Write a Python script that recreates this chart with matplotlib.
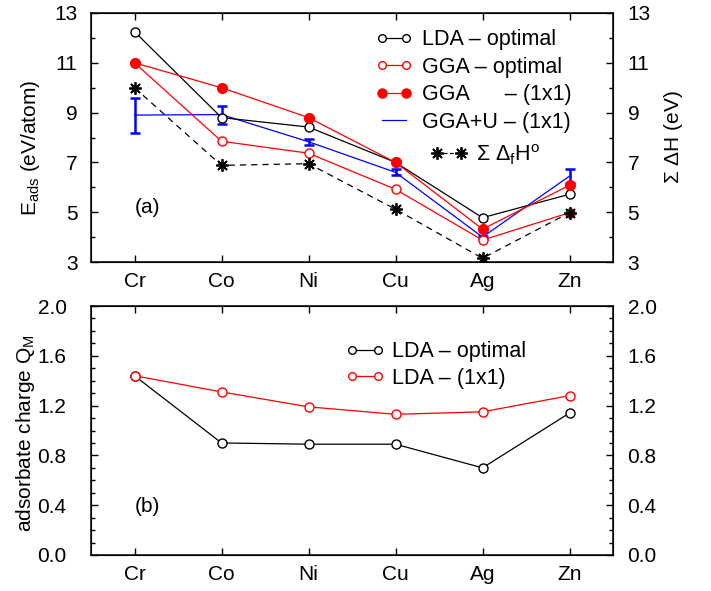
import matplotlib
matplotlib.use("Agg")
import matplotlib.pyplot as plt
from matplotlib.lines import Line2D
import numpy as np

plt.rcParams['font.family'] = ['Liberation Sans', 'DejaVu Sans']
plt.rcParams['mathtext.fontset'] = 'custom'
plt.rcParams['mathtext.rm'] = 'Liberation Sans'
plt.rcParams['mathtext.it'] = 'Liberation Sans:italic'
plt.rcParams['mathtext.sf'] = 'Liberation Sans'

metals = ["Cr", "Co", "Ni", "Cu", "Ag", "Zn"]

lda_opt = [12.25, 8.8, 8.42, 7.0, 4.78, 5.72]
gga_opt = [11.0, 7.85, 7.37, 5.92, 3.88, 4.98]
gga_1x1 = [11.0, 10.0, 8.8, 7.0, 4.32, 6.08]
ggau_1x1 = [8.9, 8.92, 7.83, 6.6, 4.0, 6.45]
ggau_err = [0.7, 0.36, 0.12, 0.12, 0.06, 0.27]
sum_dfh = [10.0, 6.88, 6.95, 5.12, 3.15, 4.98]

q_lda_opt = [1.44, 0.90, 0.89, 0.89, 0.70, 1.14]
q_lda_1x1 = [1.44, 1.31, 1.19, 1.13, 1.15, 1.28]

x = np.arange(1, len(metals) + 1)
FS = 15
LFS = 15.5

fig = plt.figure(figsize=(7.11, 5.91), dpi=100)
L, W, H = 91 / 711, 522 / 711, 249 / 591
ax1 = fig.add_axes([L, 1 - 262 / 591, W, H])
ax2 = fig.add_axes([L, 1 - 555 / 591, W, H])

lw = 0.9
ms = 6.5
star = (8, 2, 0)
ax1.plot(x, lda_opt, '-o', color='black', mfc='white', mec='black', lw=lw, ms=ms, zorder=3)
ax1.plot(x, gga_opt, '-o', color='red', mfc='white', mec='red', lw=lw, ms=ms, zorder=3)
ax1.plot(x, gga_1x1, '-o', color='red', mfc='red', mec='red', lw=lw, ms=7, zorder=3)
ax1.errorbar(x, ggau_1x1, yerr=ggau_err, color='blue', lw=lw, elinewidth=1.8,
             capsize=3.3, capthick=1.8, zorder=2)
ax1.plot(x, sum_dfh, '--', color='black', lw=lw, marker=star, ms=9, mew=1.3, zorder=3,
         dashes=(5, 4))

h = [Line2D([], [], color='black', marker='o', mfc='white', lw=lw, ms=5.5),
     Line2D([], [], color='red', marker='o', mfc='white', mec='red', lw=lw, ms=5.5),
     Line2D([], [], color='red', marker='o', mfc='red', lw=lw, ms=6.5),
     Line2D([], [], color='blue', lw=lw)]
labs = ["LDA \u2013 optimal", "GGA \u2013 optimal", "GGA      \u2013 (1x1)", "GGA+U \u2013 (1x1)"]
leg1 = ax1.legend(h, labs, loc='upper left', bbox_to_anchor=(0.545, 0.934), frameon=False,
                  fontsize=LFS, numpoints=2, handlelength=1.7, handletextpad=0.45,
                  labelspacing=0.3, borderpad=0, borderaxespad=0)
ax1.add_artist(leg1)
hs = [Line2D([], [], color='black', ls='--', marker=star, ms=9, mew=1.3, lw=lw, dashes=(3, 2))]
ax1.legend(hs, [r"$\Sigma\ \Delta_{\mathrm{f}}\mathrm{H}^{\mathrm{o}}$"], loc='upper left',
           bbox_to_anchor=(0.650, 0.481), frameon=False, fontsize=LFS, numpoints=2,
           handlelength=1.72, handletextpad=0.4, borderpad=0, borderaxespad=0)

ax1.set_ylim(3, 13)
ax1.set_yticks(np.arange(3, 14, 2))
ax1.set_yticks(np.arange(3, 14, 1), minor=True)
ax1.set_ylabel(r"E$_{\mathrm{ads}}$ (eV/atom)", fontsize=FS)
ax1.text(1.0, 5.2, "(a)", fontsize=FS, va='center', ha='left')

ax2.plot(x, q_lda_opt, '-o', color='black', mfc='white', mec='black', lw=lw, ms=ms, zorder=3)
ax2.plot(x, q_lda_1x1, '-o', color='red', mfc='white', mec='red', lw=lw, ms=ms, zorder=3)
h2 = [Line2D([], [], color='black', marker='o', mfc='white', lw=lw, ms=5.5),
      Line2D([], [], color='red', marker='o', mfc='white', mec='red', lw=lw, ms=5.5)]
ax2.legend(h2, ["LDA \u2013 optimal", "LDA \u2013 (1x1)"], loc='upper left',
           bbox_to_anchor=(0.487, 0.859), frameon=False, fontsize=LFS, numpoints=2,
           handlelength=1.84, handletextpad=0.32, labelspacing=0.27, borderpad=0, borderaxespad=0)
ax2.set_ylim(0, 2)
ax2.set_yticks(np.arange(0, 2.01, 0.4))
ax2.set_yticks(np.arange(0, 2.01, 0.1), minor=True)
ax2.set_yticklabels([f"{v:.1f}" for v in np.arange(0, 2.01, 0.4)])
ax2.set_ylabel(r"adsorbate charge Q$_{\mathrm{M}}$", fontsize=FS)
ax2.text(1.0, 0.39, "(b)", fontsize=FS, va='center', ha='left')

for ax, lpad in ((ax1, 9.7), (ax2, 17.5)):
    ax.set_xlim(0.5, 6.5)
    ax.set_xticks(x)
    ax.set_xticklabels(metals)
    ax.tick_params(axis='both', which='major', direction='in', length=5, width=1,
                   labelsize=FS, top=True, pad=7)
    ax.tick_params(axis='y', which='major', pad=lpad)
    ax.tick_params(axis='y', which='minor', direction='in', length=3, width=1)
    ax.tick_params(axis='x', which='minor', bottom=False, top=False)
    for s in ax.spines.values():
        s.set_linewidth(1.1)
    t = ax.twinx()
    t.set_ylim(ax.get_ylim())
    t.set_yticks(ax.get_yticks())
    t.set_yticks(ax.get_yticks(minor=True), minor=True)
    t.set_yticklabels([tl.get_text() for tl in ax.get_yticklabels()])
    t.tick_params(axis='y', which='major', direction='in', length=5, width=1, labelsize=FS, pad=10.5)
    t.tick_params(axis='y', which='minor', direction='in', length=3, width=1)
    if ax is ax1:
        t.set_ylabel(r"$\Sigma$ $\Delta$H (eV)", fontsize=FS)
        t.yaxis.set_label_coords(1.094, 0.5)

ax1.yaxis.set_label_coords(-0.094, 0.46)
ax2.yaxis.set_label_coords(-0.1025, 0.49)

fig.savefig("out.png", dpi=100)
